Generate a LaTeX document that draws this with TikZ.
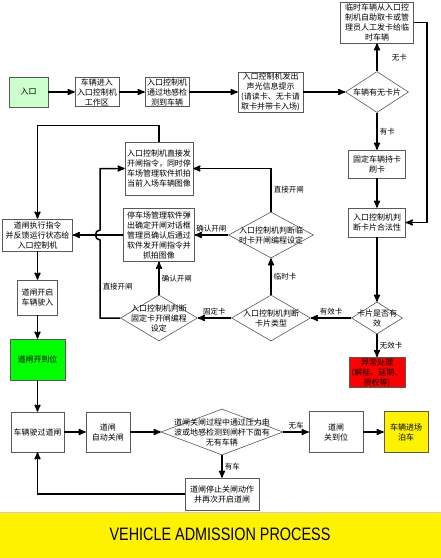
\documentclass[tikz,border=0pt]{standalone}
\usepackage{fontspec}
\newfontfamily\cjk{Noto Sans CJK SC}
\newfontfamily\titlefont{Liberation Sans}
\usetikzlibrary{arrows, positioning, shapes.geometric}

\begin{document}
\begin{tikzpicture}[x=1pt, y=-1pt, ->, >=stealth', line width=1.5pt]
    \tikzstyle{proc} = [draw=gray!70!black, line width=0.6pt, fill=white, align=center,
        inner sep=1pt, font=\cjk\fontsize{8}{10}\selectfont]
    \tikzstyle{decide} = [diamond, draw=gray!70!black, line width=0.6pt, fill=white, inner sep=0pt]
    \tikzstyle{dtext} = [align=center, inner sep=0pt, font=\cjk\fontsize{8}{10}\selectfont]
    \tikzstyle{lbl} = [inner sep=2pt, font=\cjk\fontsize{7.5}{9}\selectfont]

    \fill[white] (0,0) rectangle (441,558);
    \useasboundingbox (0,0) rectangle (441,558);

    % top row
    \node [proc, fill=green!20, minimum width=39pt, minimum height=30pt] at (28.5,92) (entry) {入口};
    \node [proc, minimum width=44pt, minimum height=29pt] at (97,92) (enter) {车辆进入\\入口控制机\\工作区};
    \node [proc, minimum width=44pt, minimum height=29pt] at (167,92) (sense) {入口控制机\\通过地感检\\测到车辆};
    \node [proc, minimum width=65pt, minimum height=40pt] at (270.5,92) (prompt) {入口控制机发出\\声光信息提示\\(请读卡、无卡请\\取卡并带卡入场)};
    \node [decide, minimum width=63pt, minimum height=41pt, label={[dtext]center:车辆有无卡片}] at (377,92) (hascard) {};
    \node [proc, minimum width=73pt, minimum height=41pt] at (377,22.5) (tempcard) {临时车辆从入口控\\制机自助取卡或管\\理员人工发卡给临\\时车辆};

    % card check column
    \node [proc, minimum width=57pt, minimum height=28pt] at (377,164) (fixcard) {固定车辆持卡\\刷卡};
    \node [proc, minimum width=57pt, minimum height=29pt] at (377,222.5) (legal) {入口控制机判\\断卡片合法性};
    \node [decide, minimum width=51pt, minimum height=32pt, label={[dtext]center:{卡片是否有\\效}}] at (377,318) (valid) {};
    \node [proc, fill=red, minimum width=56pt, minimum height=29pt] at (377,372.5) (error) {异常处理\\(解挂、延期、\\授权等)};

    % card type decisions
    \node [decide, minimum width=79pt, minimum height=46pt, label={[dtext]center:{入口控制机判断\\卡片类型}}] at (271,318) (cardtype) {};
    \node [decide, minimum width=85pt, minimum height=46pt, label={[dtext]center:{入口控制机判断临\\时卡开闸编程设定}}] at (271,235) (tempset) {};
    \node [decide, minimum width=77pt, minimum height=46pt, label={[dtext]center:{入口控制机判断\\固定卡开闸编程\\设定}}] at (159,318) (fixset) {};
    \node [proc, minimum width=68pt, minimum height=53pt] at (159,168.5) (direct) {入口控制机直接发\\开闸指令，同时停\\车场管理软件抓拍\\当前入场车辆图像};
    \node [proc, minimum width=71pt, minimum height=53pt] at (159,235) (confirm) {停车场管理软件弹\\出确定开闸对话框\\管理员确认后通过\\软件发开闸指令并\\抓拍图像};

    % gate column
    \node [proc, minimum width=70pt, minimum height=32pt] at (37.5,235) (execute) {道闸执行指令\\并反馈运行状态给\\入口控制机};
    \node [proc, minimum width=40pt, minimum height=35pt] at (37.5,297.5) (open) {道闸开启\\车辆驶入};
    \node [proc, fill=green, minimum width=55pt, minimum height=41pt] at (37.5,359.5) (opened) {道闸开到位};
    \node [proc, minimum width=53pt, minimum height=40pt] at (37.5,432) (pass) {车辆驶过道闸};

    % bottom row
    \node [proc, minimum width=44pt, minimum height=40pt] at (108,432) (autoclose) {道闸\\自动关闸};
    \node [decide, minimum width=122pt, minimum height=46pt, label={[dtext]center:{道闸关闸过程中通过压力电\\波或地感检测到闸杆下面有\\无有车辆}}] at (222,432) (detect) {};
    \node [proc, minimum width=54pt, minimum height=41pt] at (336,432) (closed) {道闸\\关到位};
    \node [proc, fill=yellow, minimum width=44pt, minimum height=41pt] at (406,432) (park) {车辆进场\\泊车};
    \node [proc, minimum width=74pt, minimum height=32pt] at (222,494) (reopen) {道闸停止关闸动作\\并再次开启道闸};
    \coordinate (hop) at (100,235);

    \draw (entry) -- (enter);
    \draw (enter) -- (sense);
    \draw (sense) -- (prompt);
    \draw (prompt) -- (hascard);
    \draw (hascard) -- node[lbl, right, xshift=12pt] {无卡} (tempcard);
    \draw (hascard) -- node[lbl, right] {有卡} (fixcard);
    \draw (tempcard.east) -- ++(13,0) |- (legal.east);
    \draw (fixcard) -- (legal);
    \draw (legal) -- (valid);
    \draw (valid) -- node[lbl, right] {无效卡} (error);
    \draw (valid) -- node[lbl, above] {有效卡} (cardtype);
    \draw (cardtype) -- node[lbl, right] {临时卡} (tempset);
    \draw (cardtype) -- node[lbl, above] {固定卡} (fixset);
    \draw (tempset) -- node[lbl, above] {确认开闸} (confirm);
    \draw (tempset.north) |- node[lbl, pos=0.25, right] {直接开闸} (direct.east);
    \draw (fixset) -- node[lbl, right] {确认开闸} (confirm);
    \draw (fixset.west) -| node[lbl, pos=0.7, right] {直接开闸} ([yshift=-5pt]hop)
        .. controls +(-6,0) and +(-6,0) .. ([yshift=5pt]hop) |- (direct.west);
    \draw (confirm) -- (execute);
    \draw (direct.north) -- ++(0,-16) -| (execute.north);
    \draw (execute) -- (open);
    \draw (open) -- (opened);
    \draw (opened) -- (pass);
    \draw (pass) -- (autoclose);
    \draw (autoclose) -- (detect);
    \draw (detect) -- node[lbl, above] {无车} (closed);
    \draw (closed) -- (park);
    \draw (detect) -- node[lbl, right] {有车} (reopen);
    \draw (reopen.west) -| (pass.south);

    % title banner
    \draw[-, gray!40, line width=1pt] (0,512) -- (441,512);
    \fill[yellow] (0,513) rectangle (441,558);
    \node [font=\titlefont\fontsize{18}{20}\selectfont] at (220,534.5) (title) {\scalebox{0.8}[1]{VEHICLE ADMISSION PROCESS}};
\end{tikzpicture}
\end{document}
